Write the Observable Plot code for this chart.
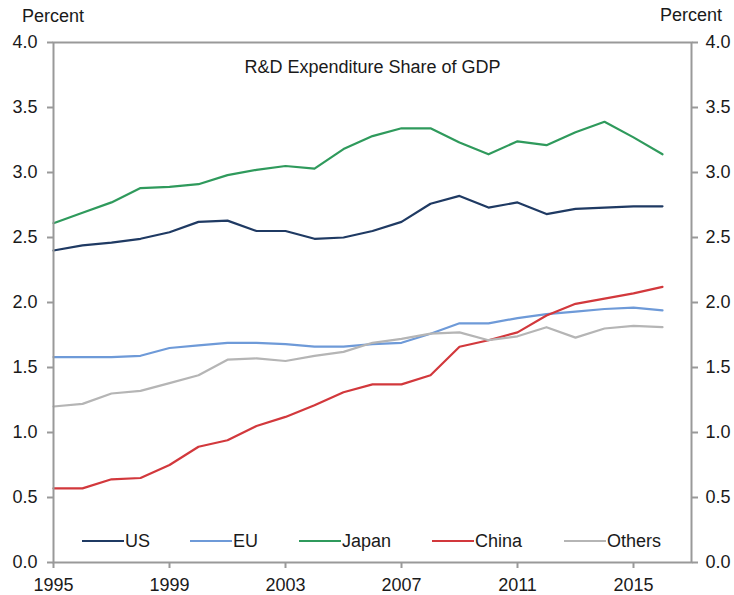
<!DOCTYPE html>
<html>
<head>
<meta charset="utf-8">
<script src="https://cdn.jsdelivr.net/npm/d3@7"></script>
<script src="https://cdn.jsdelivr.net/npm/@observablehq/plot@0.6"></script>
<style>
  html, body { margin: 0; padding: 0; background: #fff; }
  #wrap { position: relative; width: 734px; height: 595px; font-family: "Liberation Sans", Arial, sans-serif; color: #1a1a1a; }
  .lab { position: absolute; font-size: 18px; line-height: 18px; white-space: nowrap; }
  .leg { position: absolute; top: 532px; height: 18px; display: flex; align-items: center; font-size: 18px; line-height: 18px; }
  .leg span.sw { display: inline-block; width: 42px; height: 0; border-top: 2px solid; margin-right: 1px; }
</style>
</head>
<body>
<div id="wrap"></div>
<script>
const years = [1995,1996,1997,1998,1999,2000,2001,2002,2003,2004,2005,2006,2007,2008,2009,2010,2011,2012,2013,2014,2015,2016];
const us     = [2.40,2.44,2.46,2.49,2.54,2.62,2.63,2.55,2.55,2.49,2.50,2.55,2.62,2.76,2.82,2.73,2.77,2.68,2.72,2.73,2.74,2.74];
const eu     = [1.58,1.58,1.58,1.59,1.65,1.67,1.69,1.69,1.68,1.66,1.66,1.68,1.69,1.76,1.84,1.84,1.88,1.91,1.93,1.95,1.96,1.94];
const japan  = [2.61,2.69,2.77,2.88,2.89,2.91,2.98,3.02,3.05,3.03,3.18,3.28,3.34,3.34,3.23,3.14,3.24,3.21,3.31,3.39,3.27,3.14];
const china  = [0.57,0.57,0.64,0.65,0.75,0.89,0.94,1.05,1.12,1.21,1.31,1.37,1.37,1.44,1.66,1.71,1.77,1.90,1.99,2.03,2.07,2.12];
const others = [1.20,1.22,1.30,1.32,1.38,1.44,1.56,1.57,1.55,1.59,1.62,1.69,1.72,1.76,1.77,1.71,1.74,1.81,1.73,1.80,1.82,1.81];

const seriesNames  = ["US","EU","Japan","China","Others"];
const seriesValues = [us, eu, japan, china, others];
const seriesColors = ["#1f3a63","#6e9ad8","#2f9a5c","#d2383c","#b5b5b5"];
const legendX      = [82, 190, 299, 432, 564];
const yTicks = [0,0.5,1,1.5,2,2.5,3,3.5,4];
const xTicks = [1995,1999,2003,2007,2011,2015];
const title = "R&D Expenditure Share of GDP";
const yUnit = "Percent";

const rows = [];
seriesNames.forEach((name, i) => {
  years.forEach((yr, j) => rows.push({series: name, year: yr, value: seriesValues[i][j]}));
});

const axisCommon = {ticks: yTicks, tickFormat: d3.format(".1f"), tickSize: 6, label: null, stroke: "#999", strokeWidth: 2, fill: "#1a1a1a"};

const chart = Plot.plot({
  width: 734,
  height: 595,
  marginLeft: 53,
  marginRight: 43,
  marginTop: 42,
  marginBottom: 33,
  style: {fontSize: "18px", fontFamily: "'Liberation Sans', Arial, sans-serif", color: "#1a1a1a", background: "#fff"},
  x: {domain: [1995, 2017]},
  y: {domain: [0, 4]},
  color: {domain: seriesNames, range: seriesColors},
  marks: [
    Plot.axisY({...axisCommon, anchor: "left", tickPadding: 10}),
    Plot.axisY({...axisCommon, anchor: "right", tickPadding: 8}),
    Plot.axisX({ticks: xTicks, tickFormat: d => String(d), tickSize: 6, tickPadding: 10, label: null, stroke: "#999", strokeWidth: 2, fill: "#1a1a1a"}),
    Plot.lineY(rows, {x: "year", y: "value", z: "series", stroke: "series", strokeWidth: 2.2}),
    Plot.frame({stroke: "#999", strokeWidth: 2}),
    Plot.text([title], {frameAnchor: "top", lineAnchor: "middle", dy: 25, fontSize: 18, fill: "#1a1a1a"})
  ]
});

const wrap = document.getElementById("wrap");
wrap.appendChild(chart);

const pl = document.createElement("div");
pl.className = "lab"; pl.textContent = yUnit; pl.style.left = "22px"; pl.style.top = "7px";
wrap.appendChild(pl);
const pr = document.createElement("div");
pr.className = "lab"; pr.textContent = yUnit; pr.style.right = "12px"; pr.style.top = "6px";
wrap.appendChild(pr);

seriesNames.forEach((name, i) => {
  const d = document.createElement("div");
  d.className = "leg";
  d.style.left = legendX[i] + "px";
  const sw = document.createElement("span");
  sw.className = "sw"; sw.style.borderColor = seriesColors[i];
  d.appendChild(sw);
  d.appendChild(document.createTextNode(name));
  wrap.appendChild(d);
});
</script>
</body>
</html>
